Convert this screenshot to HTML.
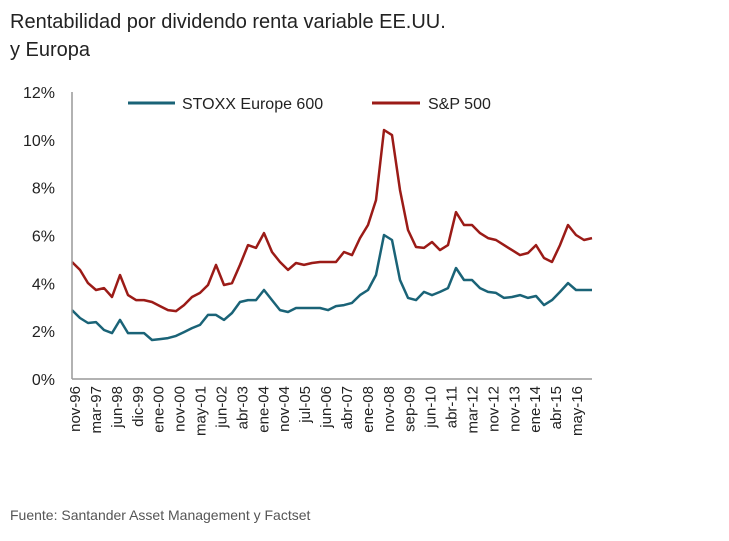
<!DOCTYPE html>
<html><head><meta charset="utf-8"><style>
body{margin:0;background:#fff;font-family:"Liberation Sans",Arial,sans-serif;}
svg text{font-family:"Liberation Sans",Arial,sans-serif;}
</style></head><body>
<svg id="c" width="729" height="536" viewBox="0 0 729 536">
<text x="10" y="28" font-size="20" fill="#222">Rentabilidad por dividendo renta variable EE.UU.</text>
<text x="10" y="56" font-size="20" fill="#222">y Europa</text>
<g id="yt"></g><g id="xt"></g><g id="ser"></g>
<line x1="72" y1="92" x2="72" y2="379" stroke="#999" stroke-width="1.5"/>
<line x1="72" y1="379" x2="592" y2="379" stroke="#999" stroke-width="1.5"/>
<g>
<line x1="128" y1="103" x2="175" y2="103" stroke="#1a6377" stroke-width="3"/>
<text x="182" y="109" font-size="16" fill="#222">STOXX Europe 600</text>
<line x1="372" y1="103" x2="420" y2="103" stroke="#9b1b17" stroke-width="3"/>
<text x="428" y="109" font-size="16" fill="#222">S&amp;P 500</text>
</g>
<text x="10" y="520" font-size="14" fill="#555">Fuente: Santander Asset Management y Factset</text>
</svg>
<script>
const yTicks=[0,2,4,6,8,10,12];
const xLabels=["nov-96","mar-97","jun-98","dic-99","ene-00","nov-00","may-01","jun-02","abr-03","ene-04","nov-04","jul-05","jun-06","abr-07","ene-08","nov-08","sep-09","jun-10","abr-11","mar-12","nov-12","nov-13","ene-14","abr-15","may-16"];
const sp500=[4.89,4.56,4.01,3.72,3.80,3.43,4.35,3.51,3.30,3.30,3.22,3.05,2.88,2.84,3.09,3.43,3.60,3.93,4.77,3.93,4.01,4.77,5.60,5.48,6.10,5.31,4.89,4.56,4.85,4.77,4.85,4.89,4.89,4.89,5.31,5.18,5.89,6.44,7.48,10.41,10.2,7.90,6.23,5.52,5.48,5.73,5.39,5.60,6.98,6.44,6.44,6.10,5.89,5.81,5.60,5.39,5.18,5.27,5.60,5.06,4.89,5.60,6.44,6.02,5.81,5.89];
const stoxx=[2.88,2.55,2.34,2.38,2.05,1.92,2.47,1.92,1.92,1.92,1.63,1.67,1.71,1.80,1.96,2.13,2.26,2.68,2.68,2.47,2.76,3.22,3.30,3.30,3.72,3.30,2.88,2.80,2.97,2.97,2.97,2.97,2.88,3.05,3.09,3.18,3.51,3.72,4.35,6.02,5.81,4.14,3.39,3.30,3.64,3.51,3.64,3.80,4.64,4.14,4.14,3.80,3.64,3.60,3.39,3.43,3.51,3.39,3.47,3.09,3.30,3.64,4.01,3.72,3.72,3.72];
const NS="http://www.w3.org/2000/svg";
const X0=72,X1=592,Y0=379,Y1=92;
function y(v){return Y0-(v/12)*(Y0-Y1);}
function xs(i,n){return X0+i*(X1-X0)/(n-1);}
function xl(i){return 74+i*(576-74)/(xLabels.length-2);}
const yt=document.getElementById('yt');
yTicks.forEach(t=>{const e=document.createElementNS(NS,'text');
e.setAttribute('x',55);e.setAttribute('y',y(t)+6);e.setAttribute('text-anchor','end');e.setAttribute('font-size','16');e.setAttribute('fill','#222');
e.textContent=t+'%';


yt.appendChild(e);});
const xt=document.getElementById('xt');
const nl=xLabels.length;
xLabels.forEach((l,i)=>{const px=74+i*(576-74)/(nl-1);
const e=document.createElementNS(NS,'text');
e.setAttribute('transform','translate('+(px+6)+',386) rotate(-90)');e.setAttribute('text-anchor','end');e.setAttribute('font-size','15');e.setAttribute('fill','#222');
e.textContent=l;


xt.appendChild(e);});
const ser=document.getElementById('ser');
[[stoxx,'#1a6377','stoxx-line'],[sp500,'#9b1b17','sp500-line']].forEach(s=>{
const d=s[0].map((v,i)=>(i?'L':'M')+xs(i,s[0].length).toFixed(1)+' '+y(v).toFixed(1)).join(' ');
const p=document.createElementNS(NS,'path');
p.setAttribute('d',d);p.setAttribute('fill','none');p.setAttribute('stroke',s[1]);p.setAttribute('stroke-width','2.5');p.setAttribute('stroke-linejoin','round');


ser.appendChild(p);});
</script>
</body></html>
